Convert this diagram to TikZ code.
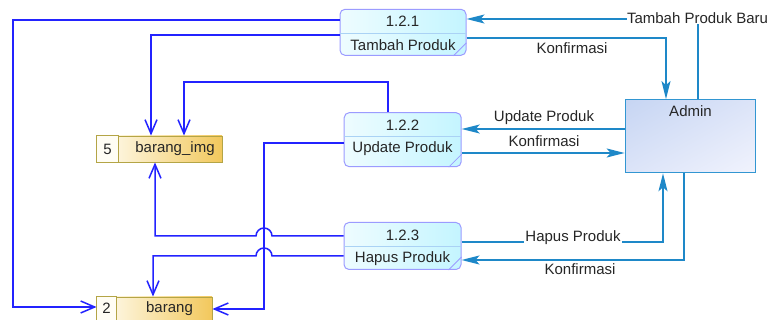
\documentclass[tikz,border=0pt]{standalone}
\usepackage{fontspec}
\setmainfont{Liberation Sans}
\usetikzlibrary{arrows.meta,calc,shadings}

\definecolor{flowblue}{RGB}{35,35,255}
\definecolor{extline}{RGB}{30,136,200}
\definecolor{procedge}{RGB}{155,155,255}
\definecolor{procA}{RGB}{238,252,255}
\definecolor{procB}{RGB}{196,245,255}
\definecolor{procdiv}{RGB}{170,210,245}
\definecolor{admedge}{RGB}{50,150,210}
\definecolor{admA}{RGB}{198,213,243}
\definecolor{admB}{RGB}{241,243,253}
\definecolor{admM}{RGB}{220,228,248}
\definecolor{dsedge}{RGB}{180,165,70}
\definecolor{dsA}{RGB}{255,253,244}
\definecolor{dsB}{RGB}{242,200,92}

\begin{document}
\begin{tikzpicture}[x=1pt,y=1pt,
  txt/.style={font=\fontsize{15}{18}\selectfont, inner sep=0pt, text=black!85},
  proc/.style={draw=procedge, line width=1pt, rounded corners=5pt,
    left color=procA, right color=procB, inner sep=0pt},
  procline/.style={draw=procdiv, line width=0.9pt},
  foldline/.style={draw=procedge, line width=0.8pt},
  admbox/.style={draw=admedge, line width=1.2pt, inner sep=0pt,
    upper left=admA, lower right=admB,
    upper right=admM, lower left=admM},
  storebox/.style={draw=dsedge, line width=0.9pt, inner sep=0pt,
    left color=dsA, right color=dsB},
  numcell/.style={draw=dsedge, line width=0.9pt, fill=dsA},
  bl/.style={draw=flowblue, line width=1.5pt,
    -{Straight Barb[length=14pt,width=12pt]}},
  ext/.style={draw=extline, line width=1.5pt,
    -{Stealth[length=18pt,width=9pt,inset=4pt]}},
  extplain/.style={draw=extline, line width=1.5pt},
]
\useasboundingbox (0,0) rectangle (771,-320);

% ---------- processes ----------
\node[proc, minimum width=126pt, minimum height=46pt] (p1) at (403,-32.3) {};
\draw[procline] (p1.west |- 0,-33) -- (p1.east |- 0,-33);
\draw[foldline] ([xshift=-13pt]p1.south east) -- ([yshift=13pt]p1.south east);
\node[txt] (p1n) at (402.5,-21) {1.2.1};
\node[txt] (p1t) at (403,-45) {Tambah Produk};

\node[proc, minimum width=117pt, minimum height=54pt] (p2) at (402.7,-139.7) {};
\draw[procline] (p2.west |- 0,-136.7) -- (p2.east |- 0,-136.7);
\draw[foldline] ([xshift=-13pt]p2.south east) -- ([yshift=13pt]p2.south east);
\node[txt] (p2n) at (402.5,-125) {1.2.2};
\node[txt] (p2t) at (402.5,-149) {Update Produk};

\node[proc, minimum width=117pt, minimum height=47pt] (p3) at (402.5,-246) {};
\draw[procline] (p3.west |- 0,-246.7) -- (p3.east |- 0,-246.7);
\draw[foldline] ([xshift=-13pt]p3.south east) -- ([yshift=13pt]p3.south east);
\node[txt] (p3n) at (402.5,-235) {1.2.3};
\node[txt] (p3t) at (402.5,-259) {Hapus Produk};

% ---------- external entity ----------
\node[admbox, minimum width=130.5pt, minimum height=73pt] (admin) at (690.5,-136.2) {};
\node[txt] (adminl) at (690.5,-111) {Admin};

% ---------- data stores ----------
\node[storebox, minimum width=125pt, minimum height=26pt] (ds5) at (159.5,-149) {};
\draw[numcell] (ds5.north west) rectangle (ds5.south west -| 118,0);
\node[txt] (ds5n) at (107.5,-149) {5};
\node[txt] (ds5t) at (175,-149) {barang\_img};

\node[storebox, minimum width=115pt, minimum height=24pt] (ds2) at (154.5,-309) {};
\draw[numcell] (ds2.north west) rectangle (ds2.south west -| 116,0);
\node[txt] (ds2n) at (106.5,-308.5) {2};
\node[txt] (ds2t) at (169.5,-308.5) {barang};

% ---------- flows between processes and stores ----------
\draw[bl] (p1.west |- 0,-20) -- (13,-20) |- (ds2.west |- 0,-307);
\draw[bl] (p1.west |- 0,-35) -| (ds5.north -| 151,0);
\draw[bl] (p2.north -| 388,0) |- (184,-82) -- (ds5.north -| 184,0);
\draw[bl] (p2.west |- 0,-143) -| (264,-309) -- (ds2.east |- 0,-309);
\draw[bl] (p3.west |- 0,-236) -- (272,-236)
  arc[start angle=0,end angle=180,radius=8pt] -- (155,-236)
  -- (ds5.south -| 155,0);
\draw[bl] (p3.west |- 0,-256) -- (272,-256)
  arc[start angle=0,end angle=180,radius=8pt] -- (153,-256)
  -- (ds2.north -| 153,0);

% ---------- flows with the admin ----------
\node[txt] (tpb) at (697.5,-18) {Tambah Produk Baru};
\draw[extplain] (admin.north -| 698,0) -- (tpb.south -| 698,0);
\draw[ext] (tpb.west |- 0,-19) -- (p1.east |- 0,-19);

\draw[ext] (p1.east |- 0,-38) -| (admin.north -| 666,0);
\node[txt] (k1) at (572,-48) {Konfirmasi};

\draw[ext] (admin.west |- 0,-129) -- (p2.east |- 0,-129);
\node[txt] (up) at (544,-118) {Update Produk};
\draw[ext] (p2.east |- 0,-153) -- (admin.west |- 0,-153);
\node[txt] (k2) at (544,-141) {Konfirmasi};

\draw[ext] (p3.east |- 0,-242) -| (admin.south -| 663,0);
\node[txt, fill=white, inner xsep=1pt] (hp) at (573,-238) {Hapus Produk};
\draw[ext] (admin.south -| 684,0) |- (p3.east |- 0,-260);
\node[txt] (k3) at (580,-269) {Konfirmasi};
\end{tikzpicture}
\end{document}
